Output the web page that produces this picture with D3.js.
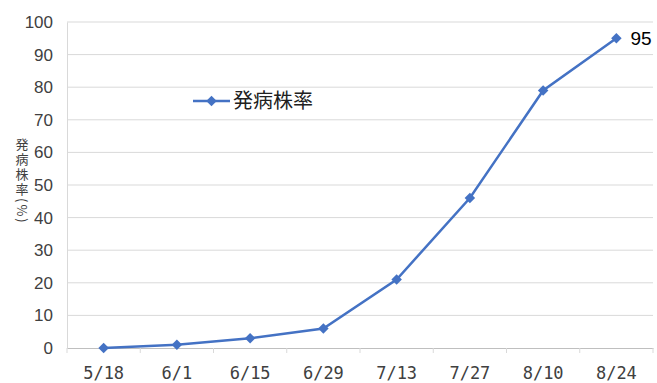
<!DOCTYPE html>
<html>
<head>
<meta charset="utf-8">
<script src="https://cdn.jsdelivr.net/npm/d3@7"></script>
<style>
  body { margin: 0; background: #fff; }
  svg { display: block; }
  .tick text { fill: #404040; }
</style>
</head>
<body>
<svg width="657" height="383"></svg>
<script>
// data
const dates = ['5/18', '6/1', '6/15', '6/29', '7/13', '7/27', '8/10', '8/24'];
const rate = [0, 1, 3, 6, 21, 46, 79, 95];
const yTicks = [0, 10, 20, 30, 40, 50, 60, 70, 80, 90, 100];
const seriesName = '発病株率';
const yLabel = '発病株率(%)';

const svg = d3.select('svg');
const plotL = 67, plotR = 653, plotT = 22, plotB = 348;
const blue = '#4472c4';

const x = d3.scaleBand().domain(dates).range([plotL, plotR]);
const y = d3.scaleLinear().domain([0, 100]).range([plotB, plotT]);

// gridlines
svg.append('g')
  .selectAll('line')
  .data(yTicks.filter(d => d > 0))
  .enter().append('line')
    .attr('x1', plotL).attr('x2', plotR)
    .attr('y1', d => y(d)).attr('y2', d => y(d))
    .attr('stroke', '#d9d9d9').attr('stroke-width', 1);

// y axis
const yAxis = svg.append('g')
  .attr('transform', `translate(${plotL},0)`)
  .call(d3.axisLeft(y).tickValues(yTicks).tickSize(0).tickPadding(14));
yAxis.select('.domain').attr('stroke', '#d9d9d9');
yAxis.selectAll('text')
  .attr('font-family', 'Liberation Sans, sans-serif')
  .attr('font-size', 17)
  .attr('fill', '#3a3a3a');

// x axis
const xAxis = svg.append('g')
  .attr('transform', `translate(0,${plotB})`)
  .call(d3.axisBottom(x).tickSize(0).tickPadding(19));
xAxis.select('.domain').attr('stroke', '#bfbfbf');
xAxis.selectAll('text')
  .attr('font-family', 'DejaVu Sans Mono, monospace')
  .attr('font-size', 17)
  .attr('fill', '#3a3a3a');
// tick marks between categories
xAxis.selectAll('.sep')
  .data(d3.range(dates.length + 1))
  .enter().append('line')
    .attr('class', 'sep')
    .attr('x1', i => plotL + i * x.step()).attr('x2', i => plotL + i * x.step())
    .attr('y1', 0).attr('y2', 5)
    .attr('stroke', '#d9d9d9');

// line
const line = d3.line()
  .x(d => x(d[0]) + x.bandwidth() / 2)
  .y(d => y(d[1]));
const pts = dates.map((d, i) => [d, rate[i]]);

svg.append('path')
  .datum(pts)
  .attr('d', line)
  .attr('fill', 'none')
  .attr('stroke', blue)
  .attr('stroke-width', 2.5);

const diamond = d3.symbol().type(d3.symbolDiamond2).size(70);
svg.selectAll('.pt')
  .data(pts)
  .enter().append('path')
    .attr('class', 'pt')
    .attr('transform', d => `translate(${x(d[0]) + x.bandwidth() / 2},${y(d[1])})`)
    .attr('d', diamond)
    .attr('fill', blue);

// data label for last point
const last = pts[pts.length - 1];
svg.append('text')
  .attr('x', x(last[0]) + x.bandwidth() / 2 + 14)
  .attr('y', y(last[1]) + 7)
  .attr('font-family', 'Liberation Sans, sans-serif')
  .attr('font-size', 19)
  .attr('fill', '#000')
  .text(last[1]);

// legend
const lg = svg.append('g').attr('transform', 'translate(193,101)');
lg.append('line').attr('x1', 0).attr('x2', 37).attr('y1', 0).attr('y2', 0)
  .attr('stroke', blue).attr('stroke-width', 2.5);
lg.append('path').attr('transform', 'translate(18.5,0)').attr('d', diamond).attr('fill', blue);
lg.append('text').attr('x', 40).attr('y', 7)
  .attr('font-family', 'Noto Sans CJK JP, sans-serif')
  .attr('font-size', 20)
  .attr('fill', '#202020')
  .text(seriesName);

// y label, vertical writing
svg.append('text')
  .attr('x', 22)
  .attr('y', 138)
  .style('writing-mode', 'vertical-rl')
  .style('letter-spacing', '2px')
  .attr('font-family', 'Noto Sans CJK JP, sans-serif')
  .attr('font-size', 13)
  .attr('fill', '#404040')
  .text(yLabel);
</script>
</body>
</html>
